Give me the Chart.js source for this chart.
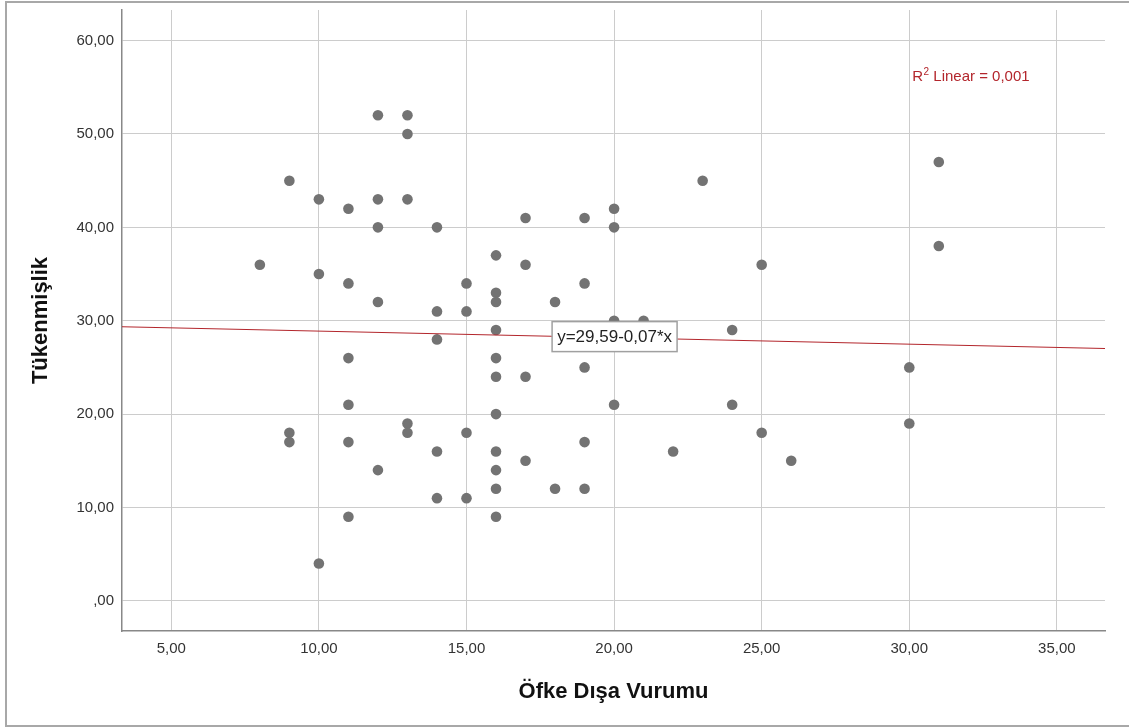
<!DOCTYPE html>
<html>
<head>
<meta charset="utf-8">
<script src="https://cdn.jsdelivr.net/npm/chart.js@4.4.1/dist/chart.umd.min.js"></script>
<style>
  body { margin: 0; background: #fff; }
</style>
</head>
<body>
<canvas id="graficoDispersion" width="1129" height="727"></canvas>
<script>
// Öfke Dışa Vurumu (x) y Tükenmişlik (y), un punto por participante
const ofkeDisa = [
  8,
  9, 9, 9,
  10, 10, 10,
  11, 11, 11, 11, 11, 11,
  12, 12, 12, 12, 12,
  13, 13, 13, 13, 13,
  14, 14, 14, 14, 14,
  15, 15, 15, 15,
  16, 16, 16, 16, 16, 16, 16, 16, 16, 16, 16,
  17, 17, 17, 17,
  18, 18,
  19, 19, 19, 19, 19,
  20, 20, 20, 20,
  21, 22, 23,
  24, 24,
  25, 25,
  26,
  30, 30,
  31, 31
];
const tukenmislik = [
  36,
  45, 18, 17,
  43, 35, 4,
  42, 34, 26, 21, 17, 9,
  52, 43, 40, 32, 14,
  52, 50, 43, 19, 18,
  40, 31, 28, 16, 11,
  34, 31, 18, 11,
  37, 33, 32, 29, 26, 24, 20, 16, 14, 12, 9,
  41, 36, 24, 15,
  32, 12,
  41, 34, 25, 17, 12,
  42, 40, 30, 21,
  30, 16, 45,
  29, 21,
  36, 18,
  15,
  25, 19,
  47, 38
];

const xTicks = [5, 10, 15, 20, 25, 30, 35];
const yTicks = [0, 10, 20, 30, 40, 50, 60];
const xRange = [3.33, 36.63];
const yRange = [-3.23, 63.28];

// recta de ajuste mostrada en el gráfico
const intercepto = 29.59;
const pendiente = -0.07;
const etiquetaR2 = ['R', '2', ' Linear = 0,001'];
const etiquetaRecta = 'y=29,59-0,07*x';

const puntos = ofkeDisa.map((v, i) => ({ x: v, y: tukenmislik[i] }));
const recta = xRange.map(v => ({ x: v, y: intercepto + pendiente * v }));

const formato = v => v === 0 ? ',00' : v.toFixed(2).replace('.', ',');
const fuente = '"Liberation Sans", Arial, sans-serif';
const rojo = '#b3262c';

const anotaciones = {
  id: 'anotaciones',
  beforeDraw(chart) {
    const ctx = chart.ctx;
    ctx.save();
    ctx.strokeStyle = '#a8a8a8';
    ctx.lineWidth = 2;
    ctx.strokeRect(6, 2, 1200, 724);
    ctx.restore();
  },
  afterDatasetsDraw(chart) {
    const { ctx, scales: { x, y } } = chart;
    ctx.save();

    // caja con la ecuación
    const cx = x.getPixelForValue(20.0);
    const cy = y.getPixelForValue(28.3);
    ctx.fillStyle = '#fff';
    ctx.fillRect(cx - 62, cy - 15, 125, 30);
    ctx.strokeStyle = '#a0a0a0';
    ctx.lineWidth = 1.5;
    ctx.strokeRect(cx - 62, cy - 15, 125, 30);
    ctx.fillStyle = '#222';
    ctx.font = '17px ' + fuente;
    ctx.textAlign = 'center';
    ctx.textBaseline = 'middle';
    ctx.fillText(etiquetaRecta, cx + 0.5, cy + 1);

    // R2
    let px = x.getPixelForValue(30.1);
    const py = y.getPixelForValue(56.2) + 5;
    ctx.fillStyle = rojo;
    ctx.textAlign = 'left';
    ctx.textBaseline = 'alphabetic';
    ctx.font = '15px ' + fuente;
    ctx.fillText(etiquetaR2[0], px, py);
    px += ctx.measureText(etiquetaR2[0]).width;
    ctx.font = '10px ' + fuente;
    ctx.fillText(etiquetaR2[1], px + 0.5, py - 6);
    px += ctx.measureText(etiquetaR2[1]).width + 0.5;
    ctx.font = '15px ' + fuente;
    ctx.fillText(etiquetaR2[2], px, py);
    ctx.restore();
  }
};

const ctxDispersion = document.getElementById('graficoDispersion');

new Chart(ctxDispersion, {
  type: 'scatter',
  data: {
    datasets: [{
      label: 'Tükenmişlik',
      data: puntos,
      backgroundColor: '#737373',
      borderWidth: 0,
      pointRadius: 5.3,
      pointHoverRadius: 5.3,
      order: 2
    }, {
      type: 'line',
      label: 'Linear',
      data: recta,
      borderColor: rojo,
      borderWidth: 1.2,
      pointRadius: 0,
      fill: false,
      order: 1
    }]
  },
  options: {
    responsive: false,
    animation: false,
    devicePixelRatio: 1,
    layout: {
      padding: { top: 10, right: 24, left: 0, bottom: 0 }
    },
    plugins: {
      legend: { display: false },
      tooltip: { enabled: false }
    },
    scales: {
      x: {
        type: 'linear',
        min: xRange[0],
        max: xRange[1],
        afterBuildTicks: s => { s.ticks = xTicks.map(v => ({ value: v })); },
        afterFit: s => { s.height = 96; s.paddingLeft = 0; s.paddingRight = 0; },
        grid: { color: '#cccccc', lineWidth: 1, drawTicks: false },
        border: { color: '#888888', width: 1.5 },
        ticks: {
          callback: formato,
          color: '#333',
          padding: 9,
          maxRotation: 0,
          font: { family: fuente, size: 15 }
        },
        title: {
          display: true,
          text: 'Öfke Dışa Vurumu',
          color: '#111',
          padding: { top: 0, bottom: 22 },
          font: { family: fuente, size: 22, weight: 'bold' }
        }
      },
      y: {
        type: 'linear',
        min: yRange[0],
        max: yRange[1],
        afterBuildTicks: s => { s.ticks = yTicks.map(v => ({ value: v })); },
        afterFit: s => { s.width = 122; s.paddingTop = 0; s.paddingBottom = 0; },
        grid: { color: '#cccccc', lineWidth: 1, drawTicks: false },
        border: { color: '#888888', width: 1.5 },
        ticks: {
          callback: formato,
          color: '#333',
          padding: 8,
          font: { family: fuente, size: 15 }
        },
        title: {
          display: true,
          text: 'Tükenmişlik',
          color: '#111',
          padding: { top: 28, bottom: 0 },
          font: { family: fuente, size: 22, weight: 'bold' }
        }
      }
    }
  },
  plugins: [anotaciones]
});
</script>
</body>
</html>
